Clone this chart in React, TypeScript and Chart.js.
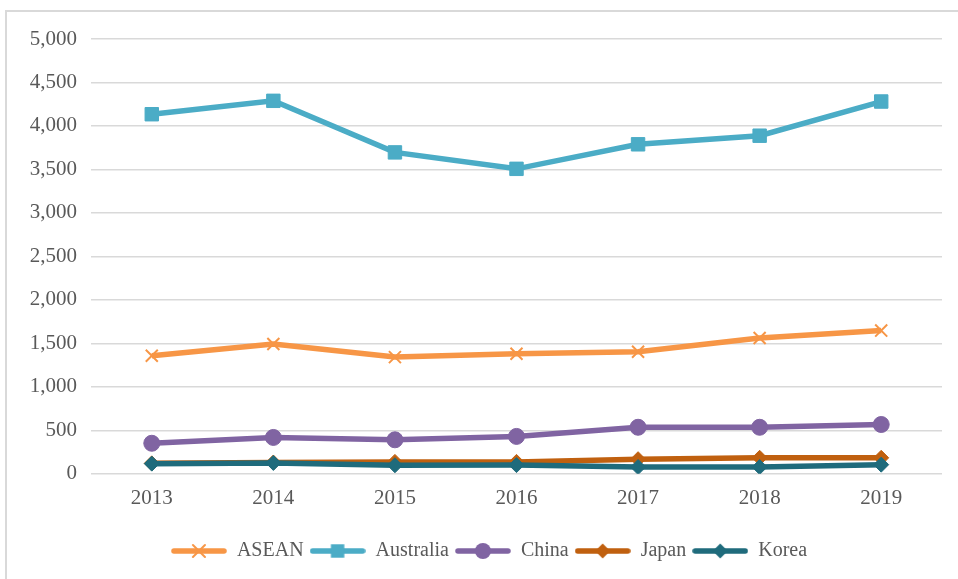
import React, { useEffect, useRef } from 'react';
import { Chart, registerables } from 'chart.js';

Chart.register(...registerables);

const years = ['2013', '2014', '2015', '2016', '2017', '2018', '2019'];
const seriesNames = ['ASEAN', 'Australia', 'China', 'Japan', 'Korea'];
const asean = [1358, 1493, 1342, 1380, 1404, 1562, 1647];
const australia = [4135, 4289, 3696, 3507, 3789, 3888, 4281];
const china = [351, 418, 391, 430, 535, 535, 567];
const japan = [120, 130, 137, 137, 168, 184, 184];
const korea = [117, 125, 98, 100, 78, 78, 105];
const yMin = 0;
const yMax = 5000;
const yStep = 500;

const seriesValues = [asean, australia, china, japan, korea];
const seriesColors = ['#f79646', '#4bacc6', '#8064a2', '#c0600f', '#1f6b7c'];
const seriesMarkers = ['crossRot', 'rect', 'circle', 'rectRot', 'rectRot'];
const markerRadius = [8.5, 9.5, 8, 7.5, 7.5];

const FONT = "'Liberation Serif', 'Times New Roman', serif";
const TEXT_COLOR = '#595959';
const GRID_COLOR = '#d9d9d9';

function drawMarker(ctx: CanvasRenderingContext2D, style: string, x: number, y: number, r: number, color: string) {
  ctx.fillStyle = color;
  ctx.strokeStyle = color;
  ctx.beginPath();
  if (style === 'circle') {
    ctx.arc(x, y, r, 0, Math.PI * 2);
    ctx.fill();
  } else if (style === 'rect') {
    const s = Math.SQRT1_2 * r;
    ctx.rect(x - s, y - s, 2 * s, 2 * s);
    ctx.fill();
  } else if (style === 'rectRot') {
    ctx.moveTo(x, y - r);
    ctx.lineTo(x + r, y);
    ctx.lineTo(x, y + r);
    ctx.lineTo(x - r, y);
    ctx.closePath();
    ctx.fill();
  } else if (style === 'crossRot') {
    const s = Math.SQRT1_2 * r;
    ctx.lineWidth = 2;
    ctx.moveTo(x - s, y - s);
    ctx.lineTo(x + s, y + s);
    ctx.moveTo(x + s, y - s);
    ctx.lineTo(x - s, y + s);
    ctx.stroke();
  }
}

// Legend swatch: a short thick line with the series marker in the middle
function makeLegendIcon(color: string, style: string, r: number) {
  const w = 56;
  const h = 22;
  const c = document.createElement('canvas');
  c.width = w;
  c.height = h;
  const ctx = c.getContext('2d') as CanvasRenderingContext2D;
  ctx.strokeStyle = color;
  ctx.lineWidth = 5.5;
  ctx.lineCap = 'round';
  ctx.beginPath();
  ctx.moveTo(3, h / 2);
  ctx.lineTo(w - 3, h / 2);
  ctx.stroke();
  drawMarker(ctx, style, w / 2, h / 2, r, color);
  return c;
}

// Nudges the legend row to the right so it sits centred under the whole frame
const legendShift = {
  id: 'legendShift',
  afterLayout(chart: any) {
    const lg = chart.legend;
    if (lg) {
      lg.left += 14.5;
      lg.right += 14.5;
    }
  },
};

export default function App() {
  const canvasRef = useRef<HTMLCanvasElement | null>(null);

  useEffect(() => {
    if (!canvasRef.current) return;
    const icons = seriesNames.map((_, i) => makeLegendIcon(seriesColors[i], seriesMarkers[i], markerRadius[i]));
    const chart = new Chart(canvasRef.current, {
      type: 'line',
      data: {
        labels: years,
        datasets: seriesNames.map((name, i) => ({
          label: name,
          data: seriesValues[i],
          borderColor: seriesColors[i],
          backgroundColor: seriesColors[i],
          borderWidth: 5.5,
          pointStyle: seriesMarkers[i] as any,
          pointRadius: markerRadius[i],
          pointBorderWidth: seriesMarkers[i] === 'crossRot' ? 2 : 1,
          pointBackgroundColor: seriesColors[i],
          pointBorderColor: seriesColors[i],
          tension: 0,
          order: seriesNames.length - i,
        })),
      },
      plugins: [legendShift],
      options: {
        animation: false,
        responsive: true,
        maintainAspectRatio: false,
        layout: { padding: { left: 0, right: 16, top: 27, bottom: 8 } },
        plugins: {
          tooltip: { enabled: false },
          legend: {
            position: 'bottom',
            labels: {
              usePointStyle: true,
              pointStyleWidth: 56,
              padding: 6,
              color: TEXT_COLOR,
              font: { family: FONT, size: 20 },
              generateLabels: (ch: any) =>
                ch.data.datasets.map((ds: any, i: number) => ({
                  text: ds.label,
                  datasetIndex: i,
                  pointStyle: icons[i],
                  fillStyle: seriesColors[i],
                  strokeStyle: seriesColors[i],
                  lineWidth: 0,
                  hidden: false,
                  fontColor: TEXT_COLOR,
                })),
            },
          },
        },
        scales: {
          x: {
            offset: true,
            grid: { display: false, drawTicks: false },
            border: { display: false },
            ticks: { color: TEXT_COLOR, font: { family: FONT, size: 21 }, padding: 12 },
            afterFit: (axis: any) => {
              axis.height += 12;
            },
          },
          y: {
            min: yMin,
            max: yMax,
            grid: { color: GRID_COLOR, lineWidth: 1.5, drawTicks: false },
            border: { display: false },
            ticks: {
              stepSize: yStep,
              color: TEXT_COLOR,
              font: { family: FONT, size: 21 },
              padding: 14,
              callback: (v: any) => Number(v).toLocaleString('en-US'),
            },
            afterFit: (axis: any) => {
              axis.width = 84;
            },
          },
        },
      },
    });
    return () => chart.destroy();
  }, []);

  return (
    <div style={{ position: 'fixed', left: 0, top: 0, width: 958, height: 579, background: '#ffffff', overflow: 'hidden' }}>
      <div
        style={{
          position: 'absolute',
          left: 5,
          top: 10,
          width: 953,
          height: 569,
          borderLeft: `2px solid ${GRID_COLOR}`,
          borderTop: `2px solid ${GRID_COLOR}`,
          boxSizing: 'border-box',
        }}
      />
      <div style={{ position: 'absolute', left: 7, top: 12, width: 951, height: 567 }}>
        <canvas ref={canvasRef} />
      </div>
    </div>
  );
}
